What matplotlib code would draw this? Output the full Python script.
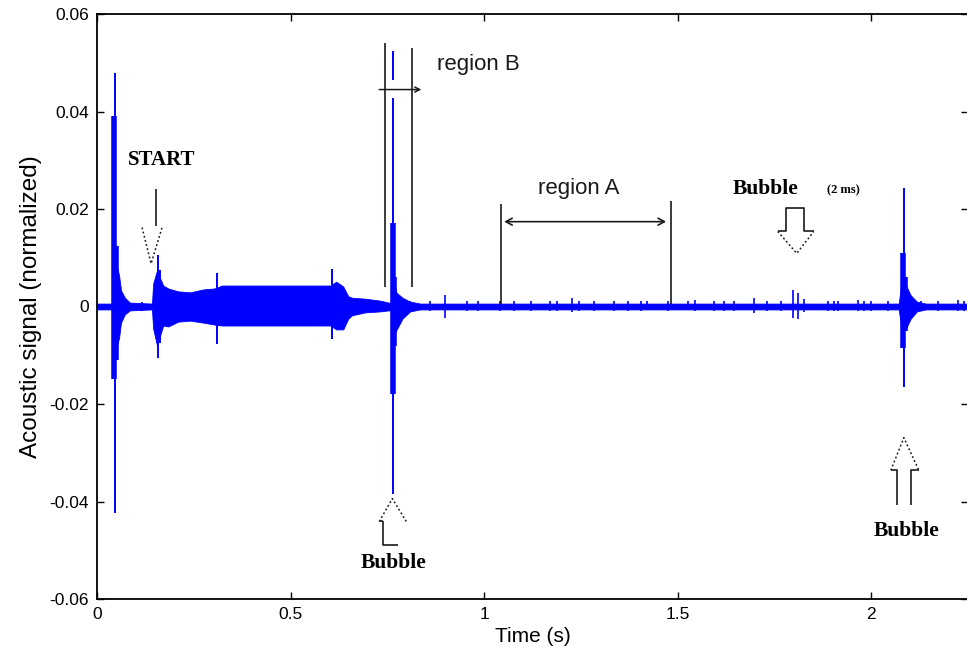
import matplotlib
matplotlib.use("Agg")
import matplotlib.pyplot as plt
from matplotlib.patches import Rectangle

# ---- signal description (time in s, amplitude normalized) ----
# continuous envelope of the recorded waveform
env_t = [0.000, 0.041, 0.049, 0.057, 0.062, 0.072, 0.085, 0.142, 0.145, 0.155,
         0.171, 0.184, 0.210, 0.241, 0.274, 0.303, 0.323, 0.422, 0.525, 0.603,
         0.618, 0.636, 0.649, 0.659, 0.693, 0.732, 0.753, 0.760, 0.768, 0.773,
         0.789, 0.809, 0.835, 2.071, 2.079, 2.090, 2.102, 2.118, 2.141, 2.250]
env_hi = [0.0006, 0.0006, 0.0090, 0.0064, 0.0033, 0.0018, 0.0008, 0.0006, 0.0047, 0.0074,
          0.0043, 0.0037, 0.0031, 0.0029, 0.0035, 0.0037, 0.0043, 0.0043, 0.0043, 0.0043,
          0.0051, 0.0041, 0.0021, 0.0018, 0.0016, 0.0012, 0.0008, 0.0008, 0.0053, 0.0029,
          0.0018, 0.0010, 0.0006, 0.0006, 0.0053, 0.0043, 0.0023, 0.0010, 0.0006, 0.0006]
env_lo = [-0.0006, -0.0006, -0.0090, -0.0064, -0.0033, -0.0016, -0.0008, -0.0006, -0.0045, -0.0080,
          -0.0039, -0.0041, -0.0031, -0.0029, -0.0033, -0.0037, -0.0039, -0.0039, -0.0039, -0.0039,
          -0.0047, -0.0047, -0.0025, -0.0018, -0.0012, -0.0010, -0.0008, -0.0008, -0.0059, -0.0049,
          -0.0025, -0.0010, -0.0006, -0.0006, -0.0049, -0.0045, -0.0025, -0.0010, -0.0006, -0.0006]

# sharp peaks (thin traces)
spike_t = [0.0465, 0.158, 0.162, 0.310, 0.608, 0.764, 2.084]
spike_hi = [0.0480, 0.0105, 0.0075, 0.0068, 0.0076, 0.0525, 0.0244]
spike_lo = [-0.0423, -0.0105, -0.0075, -0.0076, -0.0066, -0.0384, -0.0166]

# dense bursts right at the impacts
burst_t = [0.044, 0.049, 0.7645, 0.768, 2.083, 2.087]
burst_hi = [0.0390, 0.0125, 0.0172, 0.0060, 0.0110, 0.0060]
burst_lo = [-0.0148, -0.0110, -0.0180, -0.0080, -0.0085, -0.0050]

# small crackles along the quiet part of the record
tick_t = [0.116, 0.809, 0.861, 0.900, 0.957, 0.983, 1.042, 1.076, 1.120, 1.171,
          1.189, 1.228, 1.244, 1.283, 1.335, 1.371, 1.404, 1.422, 1.474, 1.526,
          1.546, 1.593, 1.619, 1.645, 1.696, 1.732, 1.766, 1.797, 1.810, 1.826,
          1.888, 1.904, 1.914, 1.966, 1.982, 2.000, 2.043, 2.128, 2.172, 2.224, 2.240]
tick_hi = [0.0010, 0.0012, 0.0012, 0.0023, 0.0012, 0.0012, 0.0012, 0.0012, 0.0012, 0.0012,
           0.0012, 0.0018, 0.0012, 0.0012, 0.0012, 0.0012, 0.0012, 0.0012, 0.0012, 0.0012,
           0.0014, 0.0012, 0.0012, 0.0012, 0.0018, 0.0012, 0.0012, 0.0033, 0.0027, 0.0016,
           0.0012, 0.0012, 0.0012, 0.0014, 0.0012, 0.0012, 0.0012, 0.0012, 0.0012, 0.0014, 0.0012]
tick_lo = [-0.0010, -0.0010, -0.0010, -0.0023, -0.0010, -0.0010, -0.0010, -0.0010, -0.0010, -0.0010,
           -0.0010, -0.0012, -0.0010, -0.0010, -0.0010, -0.0010, -0.0010, -0.0008, -0.0010, -0.0008,
           -0.0010, -0.0010, -0.0010, -0.0010, -0.0014, -0.0010, -0.0010, -0.0023, -0.0025, -0.0012,
           -0.0010, -0.0010, -0.0010, -0.0010, -0.0010, -0.0010, -0.0010, -0.0010, -0.0010, -0.0010, -0.0010]

x_ticks = [0, 0.5, 1, 1.5, 2]
x_labels = ["0", "0.5", "1", "1.5", "2"]
y_ticks = [-0.06, -0.04, -0.02, 0, 0.02, 0.04, 0.06]
y_labels = ["-0.06", "-0.04", "-0.02", "0", "0.02", "0.04", "0.06"]

# ---- figure ----
fig = plt.figure(figsize=(9.67, 6.57), dpi=100)
ax = fig.add_axes([97 / 967, 1 - 599 / 657, 871 / 967, 585 / 657])

sig = "#0000ff"
ax.fill_between(env_t, env_lo, env_hi, color=sig, lw=0.6, zorder=2)
ax.vlines(spike_t, spike_lo, spike_hi, color=sig, lw=1.4, zorder=2)
ax.vlines(burst_t, burst_lo, burst_hi, color=sig, lw=4.0, zorder=2)
ax.vlines(tick_t, tick_lo, tick_hi, color=sig, lw=1.2, zorder=2)

ax.set_xlim(0, 2.25)
ax.set_ylim(-0.06, 0.06)

tick_font = dict(family=["Liberation Sans Narrow", "Liberation Sans"], size=12.5)
ax.set_xticks(x_ticks)
ax.set_xticklabels(x_labels, **tick_font)
ax.set_yticks(y_ticks)
ax.set_yticklabels(y_labels, **tick_font)
ax.tick_params(direction="in", length=5, width=1, top=True, right=True,
               colors="black", pad=6)
for s in ax.spines.values():
    s.set_linewidth(1.3)
    s.set_color("black")

ax.set_xlabel("Time (s)", labelpad=3, family="Liberation Sans", size=15)
ax.set_ylabel("Acoustic signal (normalized)", labelpad=5,
              family="Liberation Sans", size=17.5)

ink = "#1a1a1a"
ann = dict(color=ink, lw=1.2, zorder=4, solid_capstyle="butt")

# region B brackets
ax.plot([0.745, 0.745], [0.0039, 0.0540], **ann)
ax.plot([0.815, 0.815], [0.0039, 0.0531], **ann)
ax.add_patch(Rectangle((0.70, 0.0427), 0.16, 0.0037, facecolor="white",
                       edgecolor="none", zorder=3))
ax.annotate("", xy=(0.845, 0.0445), xytext=(0.722, 0.0445),
            arrowprops=dict(arrowstyle="->,head_length=0.35,head_width=0.18",
                            color=ink, lw=1.1), zorder=5)
ax.text(0.879, 0.0496, "region B", fontsize=16, family="Liberation Sans",
        color=ink, va="center", ha="left")

# region A brackets
ax.plot([1.0447, 1.0447], [0.0006, 0.0211], **ann)
ax.plot([1.4818, 1.4818], [0.0006, 0.0217], **ann)
ax.annotate("", xy=(1.470, 0.0174), xytext=(1.052, 0.0174),
            arrowprops=dict(arrowstyle="<->,head_length=0.45,head_width=0.25",
                            color=ink, lw=1.2, shrinkA=0, shrinkB=0), zorder=5)
ax.text(1.244, 0.0242, "region A", fontsize=16, family="Liberation Sans",
        color=ink, va="center", ha="center")

# serif callouts
callout = dict(family=["Liberation Serif"], weight="bold", color="black",
               ha="center", va="center")
dotted = dict(color=ink, lw=1.1, ls=(0, (1.2, 1.6)), zorder=4)

# START marker
ax.text(0.168, 0.0300, "START", fontsize=15, **callout)
ax.plot([0.1526, 0.1526], [0.0242, 0.0166], **ann)
ax.plot([0.1164, 0.1397, 0.1681], [0.0162, 0.0088, 0.0162], **dotted)

# bubble under the first impact
ax.plot([0.7292, 0.7629, 0.7990], [-0.0441, -0.0394, -0.0441], **dotted)
ax.plot([0.7292, 0.7396], [-0.0441, -0.0441], **ann)
ax.plot([0.7396, 0.7396, 0.7784], [-0.0441, -0.0490, -0.0490], **ann)
ax.text(0.7655, -0.0527, "Bubble", fontsize=15.5, **callout)

# bubble under the late impact
ax.plot([2.0507, 2.0843, 2.1230], [-0.0336, -0.0269, -0.0336], **dotted)
ax.plot([2.0507, 2.0662, 2.0662], [-0.0336, -0.0336, -0.0408], **ann)
ax.plot([2.1230, 2.1024, 2.1024], [-0.0336, -0.0336, -0.0408], **ann)
ax.text(2.092, -0.0460, "Bubble", fontsize=15.5, **callout)

# small bubble (2 ms)
ax.text(1.727, 0.0242, "Bubble", fontsize=15.5, **callout)
ax.text(1.927, 0.0238, "(2 ms)", fontsize=9, **callout)
ax.plot([1.7585, 1.7790, 1.7790, 1.8257, 1.8257, 1.8516],
        [0.0154, 0.0154, 0.0203, 0.0203, 0.0154, 0.0154], **ann)
ax.plot([1.7585, 1.8076, 1.8516], [0.0154, 0.0109, 0.0154], **dotted)

fig.savefig("out.png", dpi=100)
